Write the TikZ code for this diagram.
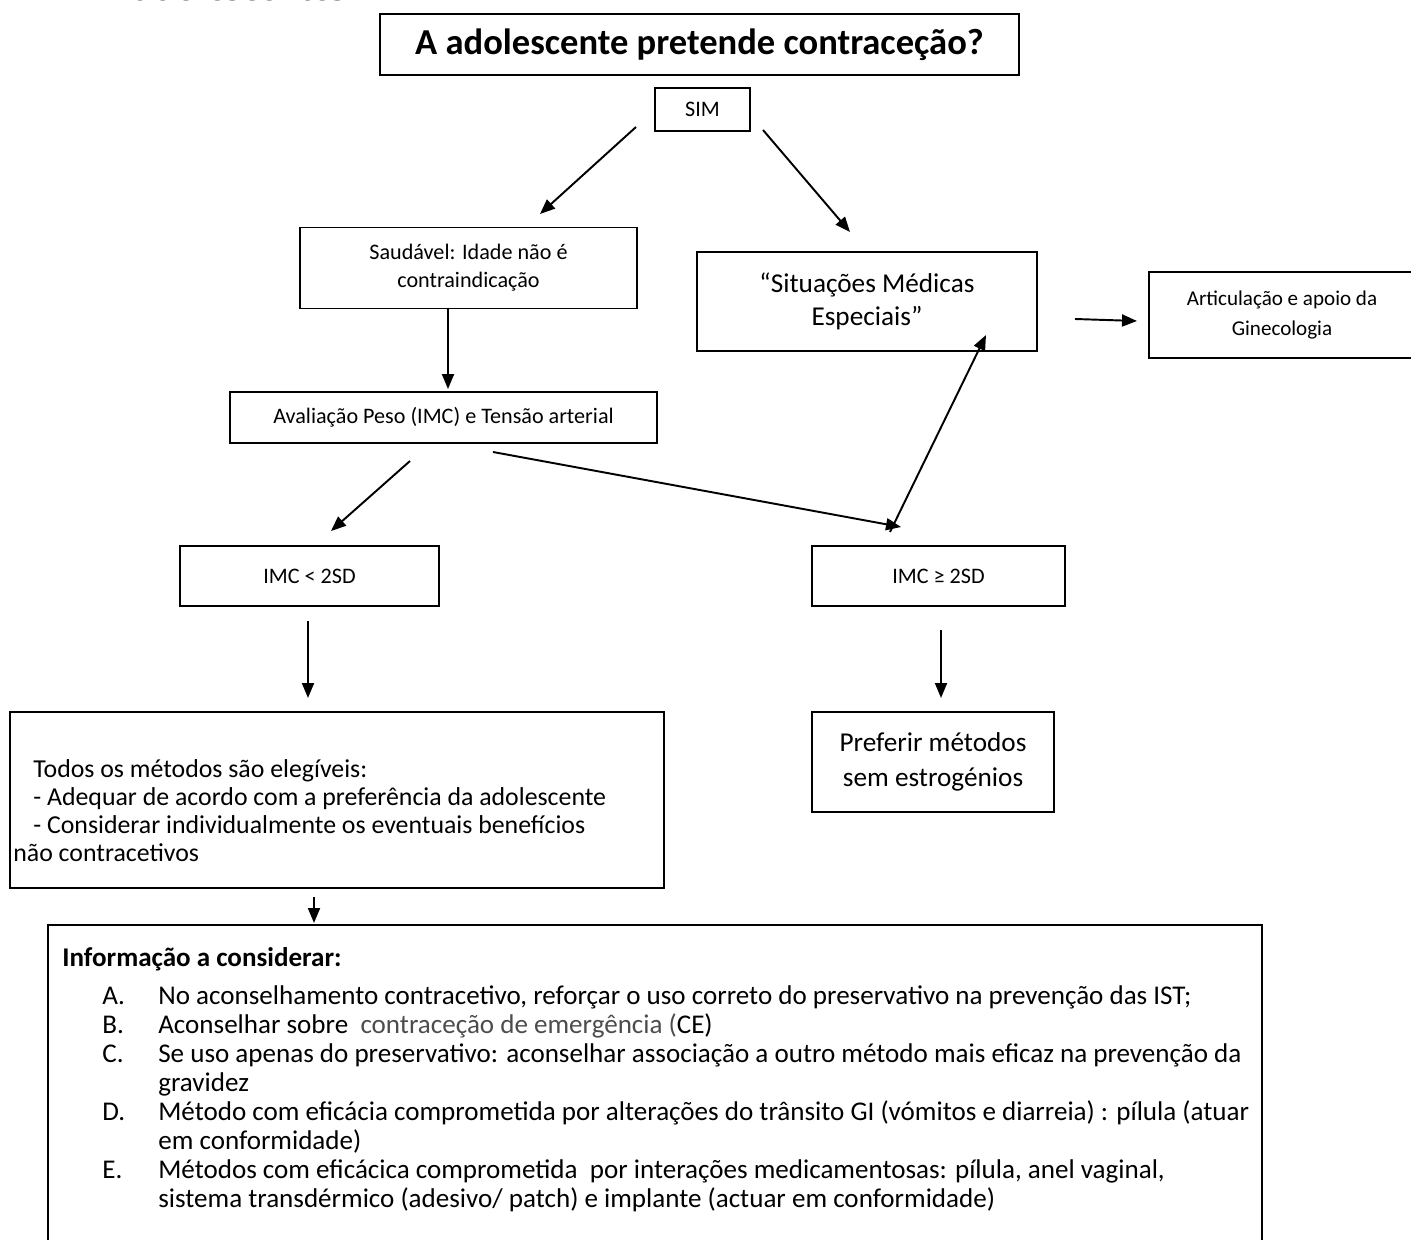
\documentclass[tikz,border=0pt]{standalone}
\usepackage{fontspec}
\setmainfont{Carlito}
\newfontfamily\headserif{Liberation Serif}
\usetikzlibrary{arrows.meta}
\definecolor{softgray}{gray}{0.3}
\begin{document}
\begin{tikzpicture}[x=0.02cm,y=-0.02cm,
  box/.style={draw,line width=0.9pt,inner sep=0pt,align=center},
  arr/.style={line width=1.1pt,-{Triangle[length=0.3cm,width=0.24cm]}},
  smalltxt/.style={font=\fontsize{12.6}{15.9}\selectfont},
  midtxt/.style={font=\fontsize{15.5}{19}\selectfont},
  bodytxt/.style={font=\fontsize{14.7}{15.9}\selectfont},
  listtxt/.style={font=\fontsize{15.4}{16.5}\selectfont},
  plain/.style={inner sep=0pt,align=left}]
\useasboundingbox (0,0) rectangle (1411,1240);

% cut-off heading at the very top
\node[plain,anchor=base west,font=\headserif\bfseries\fontsize{23}{27}\selectfont] (head) at (133,0.5) {adolescentes};

% boxes
\node[box,minimum width=12.78cm,minimum height=1.22cm,font=\bfseries\fontsize{20.8}{25}\selectfont] (title) at (699.5,44.5) {A adolescente pretende contraceção?};
\node[box,smalltxt,minimum width=1.9cm,minimum height=0.86cm] (sim) at (702.5,109.5) {SIM};
\node[box,smalltxt,minimum width=6.74cm,minimum height=1.62cm] (saud) at (468.5,268) {Saudável: Idade não é\\contraindicação};
\node[box,midtxt,minimum width=6.8cm,minimum height=1.98cm] (sit) at (867,301.5) {“Situações Médicas\\Especiais”};
\node[box,font=\fontsize{12}{17}\selectfont,minimum width=5.32cm,minimum height=1.72cm] (art) at (1282,315) {Articulação e apoio da\\Ginecologia};
\node[box,smalltxt,minimum width=8.54cm,minimum height=1.02cm] (aval) at (443.5,417.5) {Avaliação Peso (IMC) e Tensão arterial};
\node[box,smalltxt,minimum width=5.18cm,minimum height=1.2cm] (imcl) at (309.5,576) {IMC < 2SD};
\node[box,smalltxt,minimum width=5.06cm,minimum height=1.2cm] (imcg) at (938.5,576) {IMC ≥ 2SD};
\node[box,font=\fontsize{15.5}{19.8}\selectfont,minimum width=4.84cm,minimum height=2.0cm] (pref) at (933,762) {Preferir métodos\\sem estrogénios};
\node[box,minimum width=13.08cm,minimum height=3.52cm] (todos) at (337,800) {};
\node[plain,bodytxt,anchor=base west] (todostxt) at (33,861) {Todos os métodos são elegíveis:\\- Adequar de acordo com a preferência da adolescente\\- Considerar individualmente os eventuais benefícios\\\hspace*{-0.4cm}não contracetivos};
\node[box,minimum width=24.28cm,minimum height=6.9cm] (info) at (655,1097.5) {};
\node[plain,listtxt,anchor=base west] (infotxt) at (62,1207) {\textbf{Informação a considerar:}\\[0.18cm]
\hspace*{0.8cm}\makebox[1.12cm][l]{A.}No aconselhamento contracetivo, reforçar o uso correto do preservativo na prevenção das IST;\\
\hspace*{0.8cm}\makebox[1.12cm][l]{B.}Aconselhar sobre\ \ {\color{softgray}contraceção de emergência (}CE)\\
\hspace*{0.8cm}\makebox[1.12cm][l]{C.}Se uso apenas do preservativo: aconselhar associação a outro método mais eficaz na prevenção da\\
\hspace*{1.92cm}gravidez\\
\hspace*{0.8cm}\makebox[1.12cm][l]{D.}Método com eficácia comprometida por alterações do trânsito GI (vómitos e diarreia) : pílula (atuar\\
\hspace*{1.92cm}em conformidade)\\
\hspace*{0.8cm}\makebox[1.12cm][l]{E.}Métodos com eficácica comprometida\ \ por interações medicamentosas: pílula, anel vaginal,\\
\hspace*{1.92cm}sistema transdérmico (adesivo/ patch) e implante (actuar em conformidade)};

% connector end points
\coordinate (c1s) at (636,127);  \coordinate (c1e) at (540,214);
\coordinate (c2s) at (763,130);  \coordinate (c2e) at (850,232);
\coordinate (c3s) at (448,308);  \coordinate (c3e) at (448,389);
\coordinate (c4s) at (410,461);  \coordinate (c4e) at (331,531);
\coordinate (c5s) at (493,452);  \coordinate (c5e) at (901,527);
\coordinate (c6s) at (890,532);  \coordinate (c6e) at (986,335);
\coordinate (c7s) at (1075,319); \coordinate (c7e) at (1137,321);
\coordinate (c8s) at (308,621);  \coordinate (c8e) at (308,698);
\coordinate (c9s) at (941,630);  \coordinate (c9e) at (941,698);
\coordinate (c10s) at (314,897); \coordinate (c10e) at (314,923);

\draw[arr] (c1s) -- (c1e);
\draw[arr] (c2s) -- (c2e);
\draw[arr] (c3s) -- (c3e);
\draw[arr] (c4s) -- (c4e);
\draw[arr] (c5s) -- (c5e);
\draw[arr] (c6s) -- (c6e);
\draw[arr] (c7s) -- (c7e);
\draw[arr] (c8s) -- (c8e);
\draw[arr] (c9s) -- (c9e);
\draw[arr] (c10s) -- (c10e);
\end{tikzpicture}
\end{document}
